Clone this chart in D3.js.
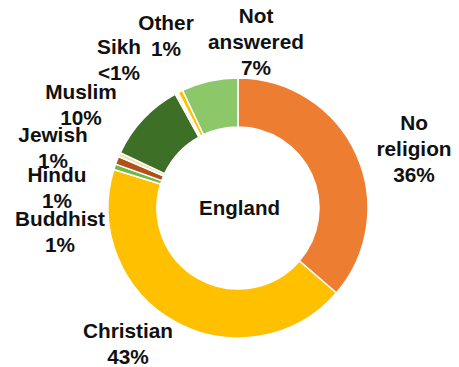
<!DOCTYPE html>
<html>
<head>
<meta charset="utf-8">
<script src="https://cdn.jsdelivr.net/npm/d3@7"></script>
<style>
  html, body { margin: 0; padding: 0; background: #fff; }
  svg { display: block; }
  text { font-family: "Liberation Sans", Arial, sans-serif; font-weight: bold; fill: #111; }
</style>
</head>
<body>
<svg id="chart" width="459" height="367"></svg>
<script>
// ---- data ----
const categories = ["No religion", "Christian", "Buddhist", "Hindu", "Jewish", "Muslim", "Sikh", "Other", "Not answered"];
const values     = [36.3, 43.4, 0.7, 1.0, 0.5, 10.0, 0.4, 0.6, 7.0];
const labelTexts = [["No", "religion", "36%"], ["Christian", "43%"], ["Buddhist", "1%"], ["Hindu", "1%"],
                    ["Jewish", "1%"], ["Muslim", "10%"], ["Sikh", "<1%"], ["Other", "1%"], ["Not", "answered", "7%"]];
const centerTitle = "England";

// ---- style / layout ----
const colors = ["#ed7d31", "#ffc000", "#70b84a", "#b2501a", "#ede3ae", "#3e6f26", "#faf4dc", "#ffc000", "#8cc76a"];
const labelAnchor = [[414,130], [128,338], [60,226], [57,182], [53,142], [81,99], [119,54], [166,30], [256,23]];
const lineGap = 26;
const cx = 238, cy = 208, R = 130, r = 81;

const svg = d3.select("#chart");
const pie = d3.pie().sort(null).value(d => d)(values);
const arc = d3.arc().innerRadius(r).outerRadius(R);

const g = svg.append("g").attr("transform", `translate(${cx},${cy})`);
g.selectAll("path").data(pie).join("path")
  .attr("d", arc)
  .attr("fill", (d, i) => colors[i])
  .attr("stroke", "#fff")
  .attr("stroke-width", 1.5);

g.append("text").attr("x", 1.5).attr("y", 7).attr("text-anchor", "middle")
  .style("font-size", "20.5px").text(centerTitle);

categories.forEach((c, i) => {
  const t = svg.append("text").attr("text-anchor", "middle").style("font-size", "20.8px");
  labelTexts[i].forEach((line, j) => {
    t.append("tspan").attr("x", labelAnchor[i][0]).attr("y", labelAnchor[i][1] + j * lineGap).text(line);
  });
});
</script>
</body>
</html>
